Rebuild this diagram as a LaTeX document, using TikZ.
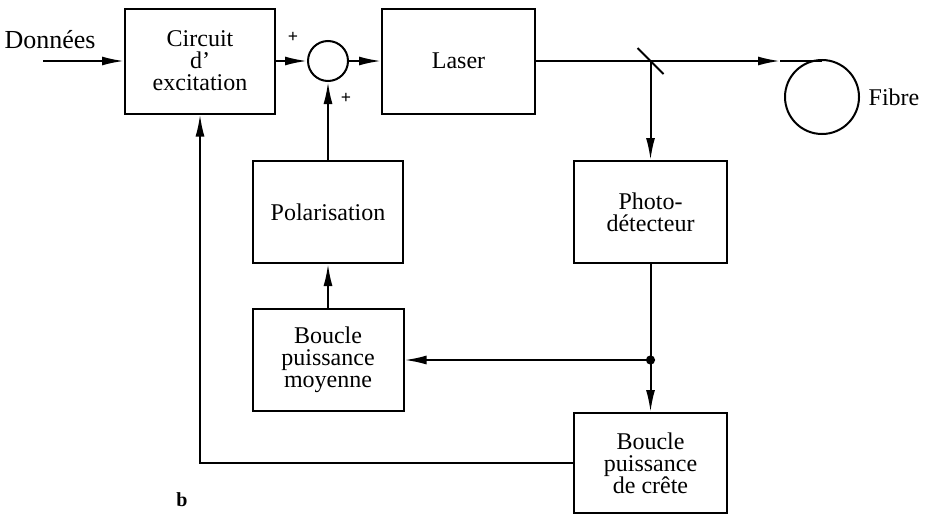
\documentclass[tikz,border=0pt]{standalone}
\usepackage{fontspec}
\setmainfont{Liberation Serif}
\usetikzlibrary{arrows.meta}

\tikzstyle{block}  = [draw,rectangle,line width=1pt,align=center,minimum width=75pt,minimum height=51pt]
\tikzstyle{cblock} = [draw,rectangle,line width=1pt,align=center,minimum width=75pt,minimum height=52.5pt]
\tikzstyle{sblock} = [draw,circle,line width=1pt,minimum size=20pt,inner sep=0pt]
\tikzstyle{fblock} = [draw,circle,line width=1pt,minimum size=37pt,inner sep=0pt]
\tikzstyle{line}   = [draw,line width=1pt,-{Latex[length=11pt,width=4.5pt]}]
\tikzstyle{wire}   = [draw,line width=1pt]
\tikzstyle{signe}  = [font=\bfseries\small,inner sep=0pt]

\begin{document}
\begin{tikzpicture}[x=1pt,y=1pt,font=\fontsize{12}{11}\selectfont]
			\useasboundingbox (0,0) rectangle (462.5,-257);
			\node [cblock](circuit) at (100,-30.5){Circuit\\ d’\\ excitation};
			\node [sblock,right of=circuit,node distance=64pt](sum){};
			\node [cblock,right of=sum,node distance=65.25pt,minimum width=76.5pt](laser){Laser};
			\node [block,below of=sum,node distance=75.5pt](polar){Polarisation};
			\node [block,below of=polar,node distance=74pt,minimum width=75.5pt](moyenne){Boucle\\ puissance\\ moyenne};
			\node [block,right of=polar,node distance=161.25pt,minimum width=76.5pt](photo){Photo-\\ détecteur};
			\node [block,below of=photo,node distance=125.5pt,minimum width=76.5pt,minimum height=50pt](crete){Boucle\\ puissance\\ de crête};
			\node [fblock](fibre) at (411,-48.5){};
			\node [right of=fibre,node distance=36pt](fibre lbl){Fibre};
			\node [font=\fontsize{13}{13}\selectfont](donnees) at (25,-20){Données};
			\node [signe](plus 1) at (146.5,-18.5){+};
			\node [signe](plus 2) at (173,-49){+};
			\node [font=\bfseries](fig) at (91,-250){b};

			\coordinate (entree) at (21.5,-30.5);
			\coordinate (fleche) at (390,-30.5);
			\coordinate (miroir) at (photo.north |- laser.east);
			\coordinate (noeud) at (photo.south |- moyenne.east);

			\draw [line] (entree) -- (circuit);
			\draw [line] (circuit) -- (sum);
			\draw [line] (sum) -- (laser);
			\draw [line] (laser.east) -- (fleche);
			\draw [wire] (fleche) -- (fleche -| fibre.north);
			\draw [wire] ([shift={(-6.5,6.5)}]miroir) -- ([shift={(6.5,-6.5)}]miroir);
			\draw [line] (miroir) -- (photo);
			\draw [line] (polar) -- (sum);
			\draw [line] (moyenne) -- (polar);
			\draw [wire] (photo) -- (noeud);
			\draw [line] (noeud) -- (crete);
			\draw [line] (noeud) -- (moyenne);
			\fill (noeud) circle (2.3pt);
			\draw [line] (crete.west) -| (circuit.south);
\end{tikzpicture}
\end{document}
